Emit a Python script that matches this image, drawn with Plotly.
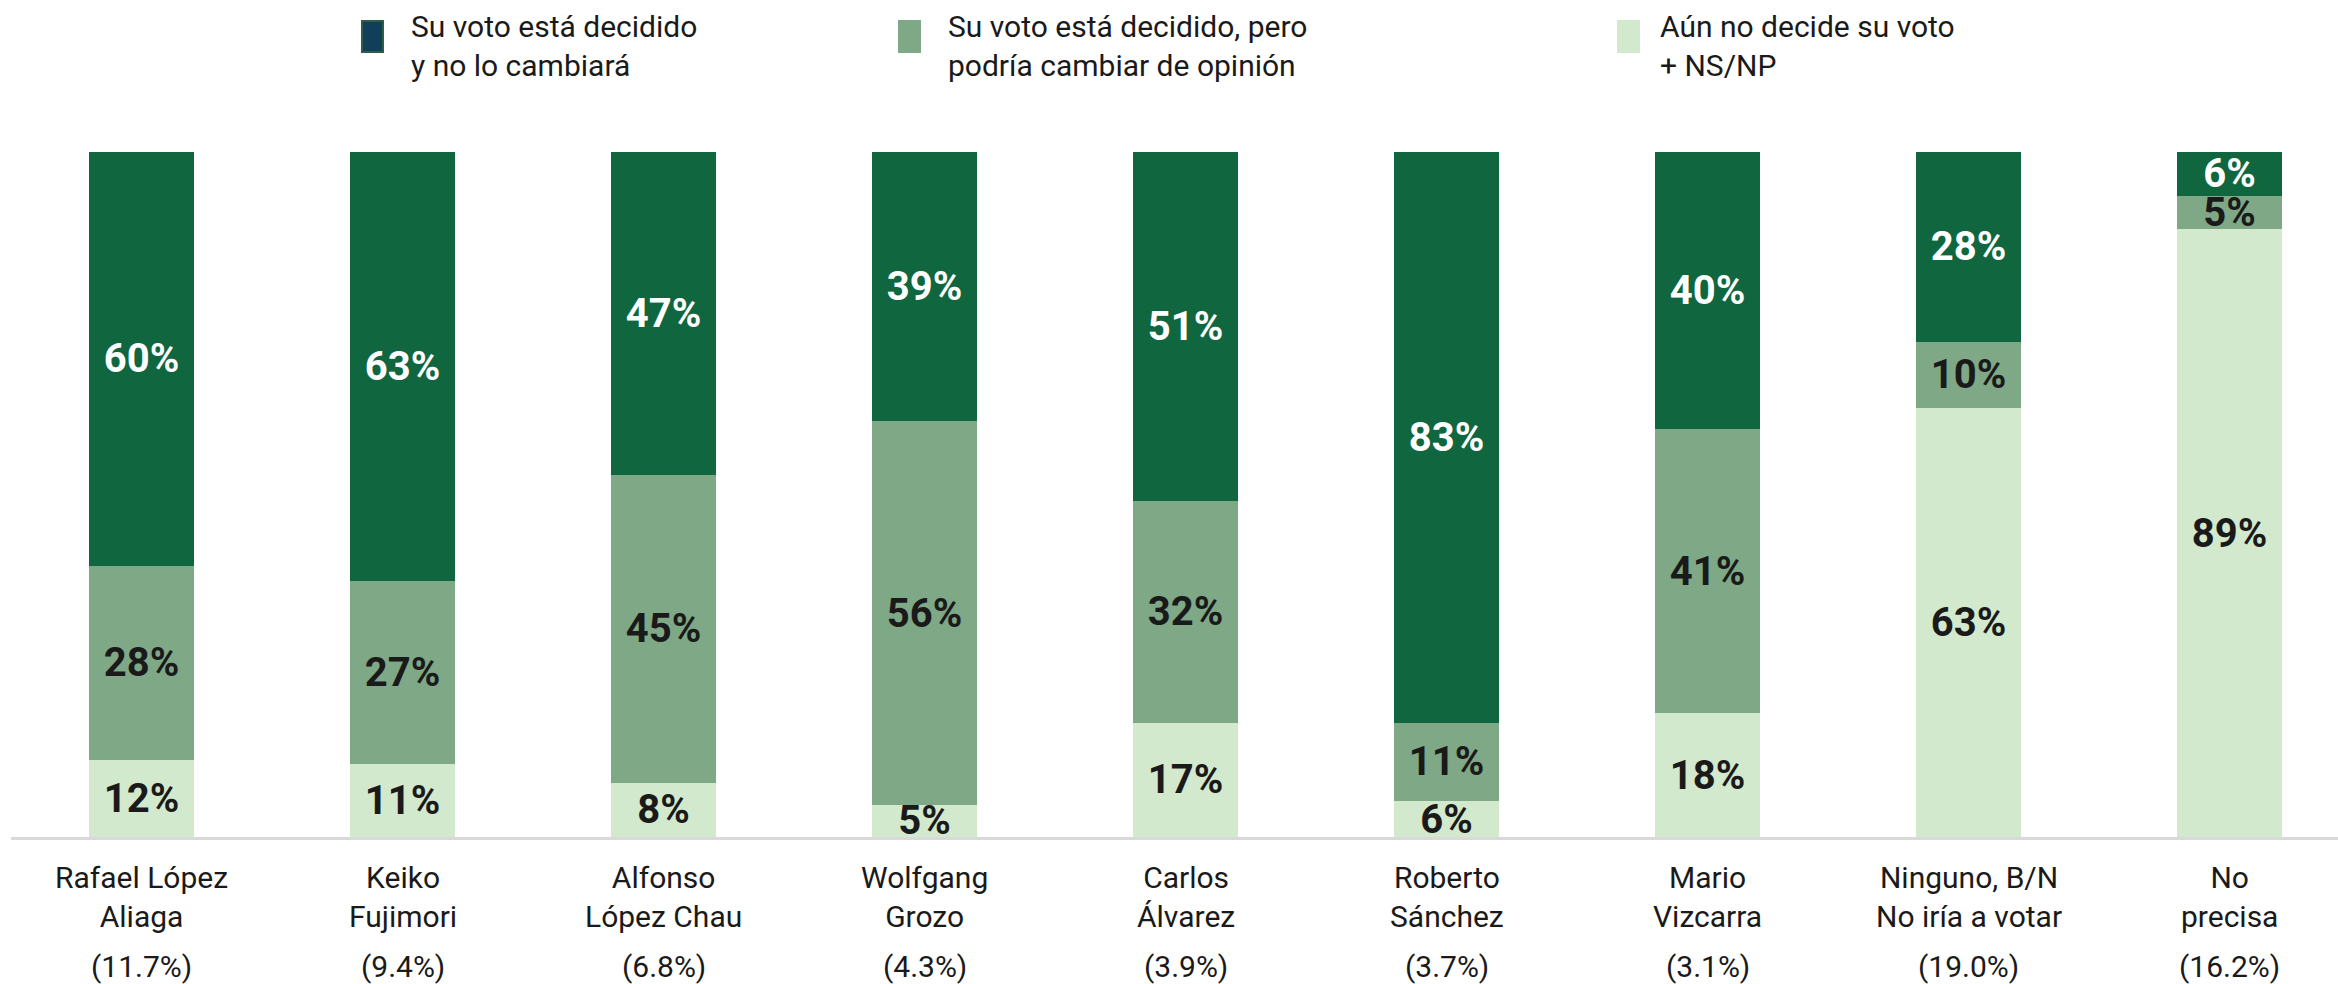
import plotly.graph_objects as go

# ---------------- data ----------------
candidates = ["Rafael López<br>Aliaga", "Keiko<br>Fujimori", "Alfonso<br>López Chau",
              "Wolfgang<br>Grozo", "Carlos<br>Álvarez", "Roberto<br>Sánchez",
              "Mario<br>Vizcarra", "Ninguno, B/N<br>No iría a votar", "No<br>precisa"]
vote_intention = ["(11.7%)", "(9.4%)", "(6.8%)", "(4.3%)", "(3.9%)", "(3.7%)",
                  "(3.1%)", "(19.0%)", "(16.2%)"]

# segment sizes (they add up to 100 per bar)
firm = [60.4, 62.6, 47.1, 39.3, 51.0, 83.3, 40.5, 27.7, 6.4]
may_change = [28.3, 26.8, 45.0, 56.0, 32.3, 11.5, 41.4, 9.7, 4.9]
undecided = [11.3, 10.6, 7.9, 4.7, 16.7, 5.2, 18.1, 62.6, 88.7]

# labels printed on the segments
firm_lbl = [60, 63, 47, 39, 51, 83, 40, 28, 6]
may_change_lbl = [28, 27, 45, 56, 32, 11, 41, 10, 5]
undecided_lbl = [12, 11, 8, 5, 17, 6, 18, 63, 89]

series_names = ["Su voto está decidido<br>y no lo cambiará",
                "Su voto está decidido, pero<br>podría cambiar de opinión",
                "Aún no decide su voto<br>+ NS/NP"]

# ---------------- style ----------------
FONT = "Roboto"
C_DARK = "#10663f"
C_MID = "#7ea886"
C_LIGHT = "#d3e9cd"
C_LEG1 = "#113f5a"
TXT = "#1a1a1a"

W, H = 2338, 984
ML, MR, MT, MB = 11, 0, 152, 147
PW = W - ML - MR
PH = H - MT - MB

fig = go.Figure()

def add_bar(vals, lbls, color, tcolor, name):
    fig.add_trace(go.Bar(
        x=list(range(len(candidates))), y=vals, name=name,
        marker=dict(color=color, line=dict(width=0)),
        width=0.4,
        text=[f"{v}%" for v in lbls],
        textposition="inside", insidetextanchor="middle",
        textangle=0, constraintext="none",
        textfont=dict(family=FONT, size=40, color=tcolor, weight="bold"),
        hoverinfo="skip", showlegend=False,
    ))

add_bar(undecided, undecided_lbl, C_LIGHT, TXT, series_names[2])
add_bar(may_change, may_change_lbl, C_MID, TXT, series_names[1])
add_bar(firm, firm_lbl, C_DARK, "white", series_names[0])

annotations = []
for i, (nm, pct) in enumerate(zip(candidates, vote_intention)):
    annotations.append(dict(x=i, y=0, xref="x", yref="y", text=nm, showarrow=False,
                            xanchor="center", yanchor="top", yshift=-21, align="center",
                            font=dict(family=FONT, size=30, color=TXT)))
    annotations.append(dict(x=i, y=0, xref="x", yref="y", text=pct, showarrow=False,
                            xanchor="center", yanchor="top", yshift=-110, align="center",
                            font=dict(family=FONT, size=30, color=TXT)))

# custom legend
def px_x(p):
    return (p - ML) / PW

def px_y(p):
    return (MT + PH - p) / PH

legend_left = [362, 899, 1618]
legend_text_x = [411, 948, 1660]
legend_colors = [C_LEG1, C_MID, C_LIGHT]
legend_borders = ["#2f5e48", C_MID, C_LIGHT]
shapes = []
for lx, tx, col, bcol, name in zip(legend_left, legend_text_x, legend_colors,
                                   legend_borders, series_names):
    shapes.append(dict(type="rect", xref="paper", yref="paper",
                       x0=px_x(lx), x1=px_x(lx + 21), y0=px_y(52), y1=px_y(21),
                       fillcolor=col, line=dict(color=bcol, width=2), layer="above"))
    annotations.append(dict(x=px_x(tx - 2), y=px_y(7), xref="paper", yref="paper",
                            text=name, showarrow=False, xanchor="left", yanchor="top",
                            align="left", font=dict(family=FONT, size=30, color=TXT)))

fig.update_layout(
    width=W, height=H,
    margin=dict(l=ML, r=MR, t=MT, b=MB, pad=0),
    barmode="stack",
    plot_bgcolor="white", paper_bgcolor="white",
    font=dict(family=FONT, color=TXT),
    xaxis=dict(range=[-0.5, PW / 261 - 0.5], showticklabels=False, showgrid=False,
               zeroline=False, showline=True, linecolor="#d9d9d9", linewidth=3,
               ticks="", fixedrange=True),
    yaxis=dict(range=[0, 100], showticklabels=False, showgrid=False, zeroline=False,
               showline=False, fixedrange=True),
    annotations=annotations,
    shapes=shapes,
    showlegend=False,
)

fig.write_html("out.html", config={"displayModeBar": False},
               post_script="document.body.style.margin='0';")
